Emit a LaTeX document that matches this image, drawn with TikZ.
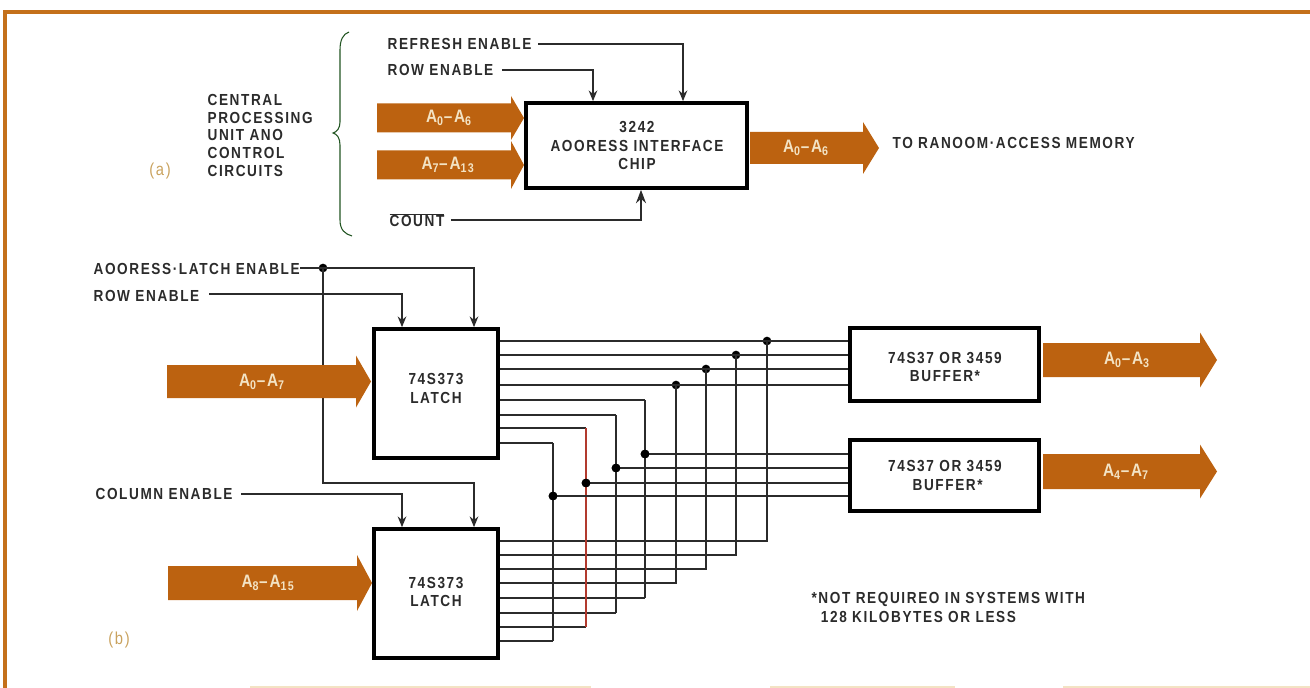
\documentclass[tikz,border=0pt]{standalone}
\usepackage{fontspec}
\usetikzlibrary{arrows.meta}
\newfontfamily\lblfont[LetterSpace=10,FakeStretch=0.85]{Liberation Sans}
\definecolor{busorange}{HTML}{BC6210}
\definecolor{frameorange}{HTML}{C4701A}
\definecolor{palelbl}{HTML}{F3E3C4}
\definecolor{taglbl}{HTML}{C9A25E}
\definecolor{inkgrey}{HTML}{2B2B2B}
\definecolor{redwire}{HTML}{B23A2E}
\begin{document}
\begin{tikzpicture}[x=0.75pt,y=-0.75pt,line width=0.9pt,>=Stealth]
\tikzset{lbl/.style={font=\lblfont\bfseries\fontsize{12}{13.2}\selectfont,text=inkgrey,inner sep=0pt},
  chip/.style={draw=black,fill=white,line width=2.8pt},
  chiptxt/.style={lbl,align=center,font=\lblfont\bfseries\fontsize{12}{14.2}\selectfont},
  wire/.style={draw=inkgrey,line width=1.05pt},
  ctl/.style={wire,-{Stealth[length=8pt,width=6.5pt]}},
  junc/.style={circle,fill=black,inner sep=0pt,minimum size=6.5pt},
  buslbl/.style={font=\lblfont\bfseries\fontsize{13.5}{14}\selectfont,text=palelbl,inner sep=0pt},
  tag/.style={font=\lblfont\fontsize{13}{14}\selectfont,text=taglbl,inner sep=0pt}}
\useasboundingbox (0,0) rectangle (1310,688);
% ---------- frame ----------
\draw[frameorange,line width=3.6pt] (5,688) -- (5,12) -- (1310,12);
\foreach \xa/\xb in {250/591,770/955,1063/1310}{\fill[palelbl] (\xa,686) rectangle (\xb,688);}
% ================= part (a) =================
\node[tag] (taga) at (160,171) {(a)};
\node[lbl,anchor=north west,align=left] (cpu) at (207,94) {CENTRAL\\PROCESSING\\UNIT ANO\\CONTROL\\CIRCUITS};
\draw[draw=inkgrey!80!green,line width=0.8pt] (349,32) .. controls (343,34) and (340,40) .. (340,50) -- (340,122)
  .. controls (340,128) and (337,132) .. (333,133) .. controls (337,134) and (340,138) .. (340,145)
  -- (340,220) .. controls (340,230) and (345,234) .. (352,236);
\node[chip,minimum width=221pt*0.75,minimum height=85pt*0.75] (iface) at (636.5,145.5) {};
\node[chiptxt] (ifacetxt) at (637,145.5) {3242\\AOORESS INTERFACE\\CHIP};
\node[lbl,anchor=west] (refresh) at (387,44) {REFRESH ENABLE};
\node[lbl,anchor=west] (rowa) at (387,70) {ROW ENABLE};
\node[lbl,anchor=west] (count) at (389,220) {$\overline{\hbox{COUNT}}$};
\node[lbl,anchor=west] (tomem) at (892,143) {TO RANOOM·ACCESS MEMORY};
\coordinate (refreshin) at (683,44);
\coordinate (rowin) at (593,70);
\coordinate (countin) at (641,220);
\draw[ctl] ([xshift=4.5pt]refresh.east) -- (refreshin) -- (refreshin |- iface.north);
\draw[ctl] ([xshift=6pt]rowa.east) -- (rowin) -- (rowin |- iface.north);
\draw[wire,-{Stealth[length=10pt,width=7.5pt]}] ([xshift=4.5pt]count.east) -- (countin) -- (countin |- iface.south);
% ================= part (b) =================
\node[tag] (tagb) at (119,640) {(b)};
\node[chip,minimum width=124pt*0.75,minimum height=129pt*0.75] (latcha) at (436,393.5) {};
\node[chip,minimum width=124pt*0.75,minimum height=129pt*0.75] (latchb) at (436,593.5) {};
\node[chip,minimum width=189pt*0.75,minimum height=73pt*0.75] (bufa) at (944.5,364.5) {};
\node[chip,minimum width=189pt*0.75,minimum height=71pt*0.75] (bufb) at (944.5,475.5) {};
\node[chiptxt] (latchatxt) at (436,388.5) {74S373\\LATCH};
\node[chiptxt] (latchbtxt) at (436,592) {74S373\\LATCH};
\node[chiptxt] (bufatxt) at (945,367) {74S37 OR 3459\\BUFFER*};
\node[chiptxt] (bufbtxt) at (945,475.5) {74S37 OR 3459\\\hspace*{4pt}BUFFER*};
\node[lbl,anchor=west] (ale) at (93,269) {AOORESS·LATCH ENABLE};
\node[lbl,anchor=west] (rowb) at (93,296) {ROW ENABLE};
\node[lbl,anchor=west] (cole) at (95,494) {COLUMN ENABLE};
\node[lbl,anchor=west,align=left] (note) at (811,607.5) {*NOT REQUIREO IN SYSTEMS WITH\\[1.5pt]\hspace*{7pt}128 KILOBYTES OR LESS};
% enable lines
\node[junc] (alej) at (323,268) {};
\coordinate (aleup) at (474,268);
\coordinate (aledn) at (474,483);
\coordinate (rowup) at (402,294);
\coordinate (colin) at (402,494);
\draw[wire] (ale.east |- alej) -- (alej.center);
\draw[ctl] (alej.center) -- (aleup) -- (aleup |- latcha.north);
\draw[ctl] (alej.center) -- (alej |- aledn) -- (aledn) -- (aledn |- latchb.north);
\draw[ctl] ([xshift=7pt]rowb.east |- rowup) -- (rowup) -- (rowup |- latcha.north);
\draw[ctl] ([xshift=6pt]cole.east) -- (colin) -- (colin |- latchb.north);
% latch outputs up to buffer a: x / y at latch a / y at latch b
\foreach \x/\ya/\yb in {767/341/541,736/355/555,706/369/569,676/385/583}{
  \node[junc] (up\x) at (\x,\ya) {};
  \coordinate (lo\x) at (\x,\yb);
  \draw[wire] (latcha.east |- up\x) -- (up\x -| bufa.west);
  \draw[wire] (latchb.east |- lo\x) -- (lo\x) -- (up\x.center);
}
% latch outputs down to buffer b: x / y at latch a / y at junction / y at latch b
\foreach \x/\ya/\yj/\yb/\col in {645/400/454/598/inkgrey,616/415/468/613/inkgrey,586/428/483/627/redwire,553/443/496/641/inkgrey}{
  \coordinate (hi\x) at (\x,\ya);
  \coordinate (lo\x) at (\x,\yb);
  \node[junc] (dn\x) at (\x,\yj) {};
  \draw[wire] (latcha.east |- hi\x) -- (hi\x);
  \draw[wire] (latchb.east |- lo\x) -- (lo\x);
  \draw[wire,draw=\col] (hi\x) -- (lo\x);
  \draw[wire] (dn\x.center) -- (dn\x -| bufb.west);
  \node[junc] at (dn\x) {};
}
% ---------- bus arrows: name / left / head start / tip / centre / half shaft / half head / label x / label ----------
\foreach \nm/\xa/\xh/\xb/\yc/\bh/\hh/\lx/\txt in {
  busa/377/511/524/118/14.5/22/449/{A\textsubscript{0}–A\textsubscript{6}},
  busb/377/511/524/165/14.5/24/448/{A\textsubscript{7}–A\textsubscript{13}},
  busc/750/863/879/148/16/26/806/{A\textsubscript{0}–A\textsubscript{6}},
  busd/167/356/371/381.5/16.5/26/262/{A\textsubscript{0}–A\textsubscript{7}},
  buse/168/357/372/583/17/28/268/{A\textsubscript{8}–A\textsubscript{15}},
  busf/1043/1200/1217/360/17/27.5/1127/{A\textsubscript{0}–A\textsubscript{3}},
  busg/1043/1200/1217/471.5/17.5/27/1126/{A\textsubscript{4}–A\textsubscript{7}}}{
  \fill[busorange] (\xa,\yc-\bh) -- (\xh,\yc-\bh) -- (\xh,\yc-\hh) -- (\xb,\yc) -- (\xh,\yc+\hh) -- (\xh,\yc+\bh) -- (\xa,\yc+\bh) -- cycle;
  \node[buslbl] (\nm) at (\lx,\yc) {\txt};
}
\end{tikzpicture}
\end{document}
